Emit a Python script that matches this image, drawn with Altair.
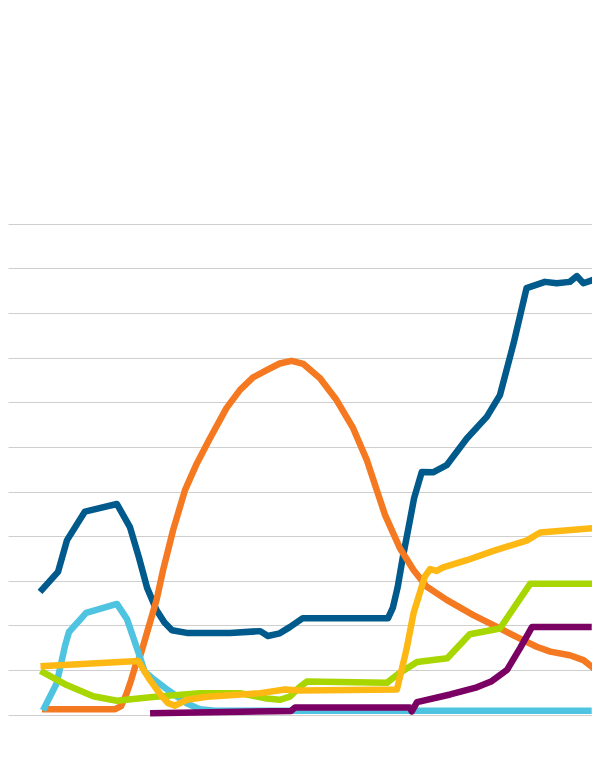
import altair as alt
import pandas as pd

# x: position along the time axis (0-100), y: value in gridline units
navy_x = [5.41, 8.45, 9.97, 13.0, 18.4, 20.6, 22.1, 23.5, 25.1, 26.4, 27.7, 30.2, 37.5, 42.6, 43.9, 45.9, 47.6, 49.8,
          64.2, 65.0, 65.8, 66.7, 67.9, 68.6, 69.9, 71.8, 74.1, 77.5, 80.9, 83.1, 85.4, 87.6, 90.7, 92.7, 94.9, 96.1, 97.2, 99.2]
navy_y = [2.75, 3.20, 3.91, 4.55, 4.72, 4.20, 3.53, 2.84, 2.34, 2.07, 1.89, 1.83, 1.83, 1.87, 1.76, 1.82, 1.96, 2.16,
          2.16, 2.39, 2.84, 3.53, 4.36, 4.85, 5.44, 5.43, 5.59, 6.19, 6.68, 7.16, 8.32, 9.56, 9.70, 9.67, 9.70, 9.83, 9.67, 9.76]

orange_x = [5.74, 18.1, 19.1, 20.0, 20.8, 21.6, 22.3, 23.6, 25.1, 26.2, 27.9, 29.9, 31.9, 34.1, 36.9, 39.2, 41.4, 43.7,
            45.9, 47.9, 49.9, 52.7, 55.5, 58.3, 60.6, 62.3, 63.7, 66.2, 68.5, 70.7, 74.1, 78.6, 83.1, 85.9, 89.3, 91.6,
            94.9, 97.2, 99.2]
orange_y = [0.12, 0.12, 0.19, 0.46, 0.77, 1.13, 1.30, 1.89, 2.57, 3.24, 4.14, 5.03, 5.63, 6.19, 6.87, 7.28, 7.56, 7.72,
            7.87, 7.93, 7.86, 7.54, 7.05, 6.42, 5.71, 5.03, 4.47, 3.73, 3.24, 2.87, 2.57, 2.23, 1.93, 1.74, 1.52, 1.41,
            1.33, 1.22, 1.01]

sky_x = [5.91, 8.23, 9.63, 10.3, 13.2, 18.4, 20.1, 21.7, 23.1, 24.8, 27.0, 30.2, 32.4, 35.0, 98.6]
sky_y = [0.09, 0.70, 1.54, 1.85, 2.28, 2.48, 2.14, 1.52, 0.96, 0.77, 0.55, 0.25, 0.12, 0.085, 0.085]

lime_x = [5.49, 9.92, 14.4, 18.4, 24.0, 32.4, 39.2, 43.7, 45.9, 47.6, 49.3, 50.5, 64.0, 65.9, 69.1, 74.2, 78.0, 83.1, 88.2, 99.2]
lime_y = [0.98, 0.66, 0.41, 0.31, 0.39, 0.48, 0.48, 0.36, 0.33, 0.40, 0.62, 0.74, 0.71, 0.91, 1.18, 1.26, 1.80, 1.93, 2.93, 2.93]

gold_x = [5.49, 22.0, 24.0, 25.7, 27.0, 28.2, 30.2, 33.6, 42.6, 46.8, 49.3, 65.7, 67.3, 68.5, 70.4, 71.3, 72.4, 73.5,
          77.5, 82.0, 87.6, 89.9, 100.0]
gold_y = [1.08, 1.20, 0.77, 0.46, 0.26, 0.20, 0.33, 0.40, 0.48, 0.56, 0.54, 0.56, 1.45, 2.27, 3.09, 3.26, 3.22, 3.30,
          3.46, 3.67, 3.90, 4.08, 4.19]

plum_x = [24.0, 47.8, 48.5, 67.9, 68.2, 69.1, 74.7, 79.2, 81.6, 84.3, 86.5, 88.5, 98.6]
plum_y = [0.03, 0.08, 0.16, 0.16, 0.07, 0.28, 0.45, 0.61, 0.74, 1.00, 1.49, 1.96, 1.96]

series = [
    ("navy", navy_x, navy_y, "#005A8C"),
    ("orange", orange_x, orange_y, "#F47920"),
    ("sky", sky_x, sky_y, "#4FC4E0"),
    ("lime", lime_x, lime_y, "#A8D600"),
    ("gold", gold_x, gold_y, "#FDB813"),
    ("plum", plum_x, plum_y, "#7A0063"),
]

grid_values = list(range(0, 12))

x_scale = alt.Scale(domain=[0, 98.65], nice=False, zero=False)
y_scale = alt.Scale(domain=[-0.1, 15.84], nice=False, zero=False)
y_axis = alt.Axis(values=grid_values, grid=True, labels=False, ticks=False, domain=False,
                  title="", gridColor="#CFCFCF", gridWidth=1, gridOpacity=1)

layers = []
for name, xs, ys, col in series:
    df = pd.DataFrame({"t": xs, "v": ys, "order": range(len(xs))})
    layers.append(
        alt.Chart(df).mark_line(color=col, strokeWidth=6.5, strokeJoin="round", clip=True).encode(
            x=alt.X("t:Q", scale=x_scale, axis=None),
            y=alt.Y("v:Q", scale=y_scale, axis=y_axis),
            order="order:Q",
        )
    )

chart = alt.layer(*layers).properties(
    width=584, height=711, padding={"left": 0, "top": 0, "right": 0, "bottom": 0},
    view=alt.ViewBackground(stroke="transparent", strokeWidth=0, strokeOpacity=0),
).configure(background="white")

chart.save("out.html", embed_options={"renderer": "svg", "actions": False})
